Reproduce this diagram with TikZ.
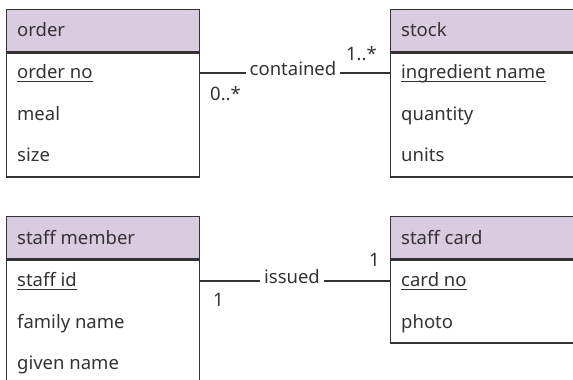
\documentclass[tikz,border=0pt]{standalone}
\usepackage{fontspec}
\setmainfont{Noto Sans}
\definecolor{hdrfill}{HTML}{D9CCE1}
\definecolor{boxline}{HTML}{333333}
\definecolor{ink}{HTML}{333333}
\begin{document}
\begin{tikzpicture}[x=1pt,y=-1pt,
  every node/.style={font=\fontsize{18.5}{22}\selectfont, text=ink},
  hdr/.style={draw=boxline, fill=hdrfill, line width=1.4pt, anchor=north west,
    inner sep=0pt, minimum height=42pt},
  body/.style={draw=boxline, line width=1.4pt, anchor=north west, inner sep=0pt},
  attr/.style={anchor=base west, inner sep=0pt},
  mult/.style={inner sep=0pt},
  rel/.style={inner xsep=4pt, inner ysep=0pt},
  link/.style={draw=boxline, line width=1.4pt},
  keyline/.style={draw=ink, line width=0.9pt}
]
\useasboundingbox (0,0) rectangle (573,380);
\clip (0,0) rectangle (573,380);

% entity: order
\node[hdr, minimum width=193pt] (order-h) at (6,9) {};
\node[body, minimum width=193pt, minimum height=124pt] (order-b) at (order-h.south west) {};
\node[attr] (order-t) at (17,36.5) {order};
\node[attr] (orderno) at (17,78) {order no};
\node[attr] (meal) at (17,120) {meal};
\node[attr] (size) at (17,161.5) {size};

% entity: stock
\node[hdr, minimum width=200pt] (stock-h) at (390,9) {};
\node[body, minimum width=200pt, minimum height=124pt] (stock-b) at (stock-h.south west) {};
\node[attr] (stock-t) at (401,36.5) {stock};
\node[attr] (ingname) at (401,78) {ingredient name};
\node[attr] (quantity) at (401,120) {quantity};
\node[attr] (units) at (401,161.5) {units};

% entity: staff member
\node[hdr, minimum width=193pt] (staff-h) at (6,216) {};
\node[body, minimum width=193pt, minimum height=200pt] (staff-b) at (staff-h.south west) {};
\node[attr] (staff-t) at (17,244) {staff member};
\node[attr] (staffid) at (17,286.5) {staff id};
\node[attr] (famname) at (17,328) {family name};
\node[attr] (givname) at (17,369) {given name};

% entity: staff card
\node[hdr, minimum width=200pt] (card-h) at (390,216) {};
\node[body, minimum width=200pt, minimum height=83pt] (card-b) at (card-h.south west) {};
\node[attr] (card-t) at (401,244) {staff card};
\node[attr] (cardno) at (401,286.5) {card no};
\node[attr] (photo) at (401,328) {photo};

% key attributes underlined
\foreach \k in {orderno, ingname, staffid, cardno}
  \draw[keyline] ([yshift=-3pt]\k.base west) -- ([yshift=-3pt]\k.base east);

% relationship: contained
\node[rel, anchor=base] (contained) at (293,75.5) {contained};
\draw[link] (order-b.east |- contained.mid) -- (contained.mid west);
\draw[link] (contained.mid east) -- (stock-b.west |- contained.mid);
\node[mult, anchor=base west] (m-order) at (210,100) {0..*};
\node[mult, anchor=base east] (m-stock) at (377,60) {1..*};

% relationship: issued
\node[rel, anchor=base] (issued) at (292,283.5) {issued};
\draw[link] (staff-b.east |- issued.mid) -- (issued.mid west);
\draw[link] (issued.mid east) -- (card-b.west |- issued.mid);
\node[mult, anchor=base west] (m-staff) at (213,306.5) {1};
\node[mult, anchor=base east] (m-card) at (380,266.5) {1};
\end{tikzpicture}
\end{document}
